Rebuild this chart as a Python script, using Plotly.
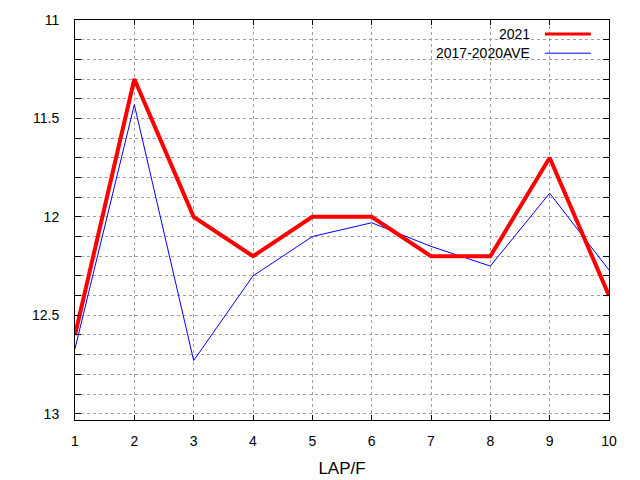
import plotly.graph_objects as go

# lap number and lap times (reversed y axis)
laps = [1, 2, 3, 4, 5, 6, 7, 8, 9, 10]
y2021 = [12.6, 11.3, 12.0, 12.2, 12.0, 12.0, 12.2, 12.2, 11.7, 12.4]
y_ave = [12.67, 11.43, 12.73, 12.3, 12.1, 12.03, 12.15, 12.25, 11.88, 12.27]

names = ['2021', '2017-2020AVE']
colors = ['#ff0000', '#0000ff']
widths = [4, 1]

fig = go.Figure()
fig.add_trace(go.Scatter(x=laps, y=y_ave, mode='lines', name=names[1],
                         line=dict(color=colors[1], width=widths[1])))
fig.add_trace(go.Scatter(x=laps, y=y2021, mode='lines', name=names[0],
                         line=dict(color=colors[0], width=widths[0])))

font = dict(family='Liberation Sans, Arial, sans-serif', size=14, color='black')
grid = dict(showgrid=True, gridcolor='#a0a0a0', gridwidth=1, griddash='3px,3px')

fig.update_xaxes(
    range=[1, 10], dtick=1, tick0=1,
    ticks='inside', ticklen=5, tickcolor='black',
    showline=True, linecolor='black', linewidth=1, mirror='ticks',
    zeroline=False, ticklabelstandoff=8,
    title=dict(text='LAP/F', standoff=14),
    **grid
)
fig.update_yaxes(
    range=[13.032, 11], dtick=0.5, tick0=11,
    ticks='inside', ticklen=6, tickcolor='black',
    showline=True, linecolor='black', linewidth=1, mirror='ticks',
    zeroline=False, ticklabelstandoff=12,
    minor=dict(dtick=0.1, tick0=11, ticks='inside', ticklen=6, tickcolor='black',
               showgrid=True, gridcolor='#a0a0a0', griddash='3px,3px'),
    **grid
)

# legend drawn gnuplot style: text right aligned, sample to the right
fig.add_shape(type='rect', xref='paper', yref='paper', x0=0.635, x1=0.984, y0=0.89, y1=1.0,
              fillcolor='white', line=dict(width=0), layer='between')
for i, (nm, c, w) in enumerate(zip(names, colors, widths)):
    yy = 0.965 - i * 0.048
    fig.add_annotation(xref='paper', yref='paper', x=0.855, y=yy, text=nm, showarrow=False,
                       xanchor='right', yanchor='middle', font=font)
    fig.add_shape(type='line', xref='paper', yref='paper', x0=0.88, x1=0.966, y0=yy, y1=yy,
                  line=dict(color=c, width=3 if w > 1 else 1))

fig.update_layout(
    width=640, height=487,
    margin=dict(l=75, r=31, t=19, b=62),
    paper_bgcolor='white', plot_bgcolor='white',
    font=font, showlegend=False,
)

# pin the plot to the window corner so the page is exactly the figure
pin = ("var gd=document.getElementById('{plot_id}');"
       "gd.style.position='fixed';gd.style.left='0';gd.style.top='0';"
       "document.body.style.margin='0';")
fig.write_html("out.html", config={'displayModeBar': False}, post_script=pin)
